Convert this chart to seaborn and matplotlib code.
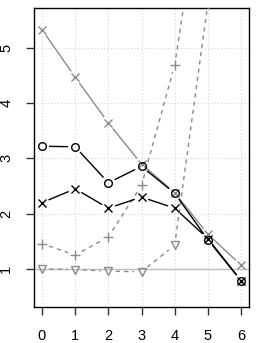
import numpy as np
import pandas as pd
import matplotlib
matplotlib.use("Agg")
from matplotlib import pyplot as plt
import seaborn as sb

# values
steps = [0, 1, 2, 3, 4, 5, 6]
gray_cross = [5.33, 4.47, 3.64, 2.90, 2.38, 1.63, 1.07]
black_circle = [3.22, 3.21, 2.56, 2.855, 2.37, 1.53, 0.79]
black_cross = [2.20, 2.45, 2.10, 2.30, 2.10, 1.55, 0.79]
gray_plus = [1.46, 1.25, 1.58, 2.51, 4.69, 8.6, 13.0]
gray_tri = [1.00, 0.99, 0.96, 0.95, 1.43, 5.8, 10.0]
ref_level = 1
x_ticks = [0, 1, 2, 3, 4, 5, 6]
y_ticks = [1, 2, 3, 4, 5]

sb.set_style("white")
plt.rcParams["font.family"] = ["Liberation Sans", "DejaVu Sans"]

fig = plt.figure(figsize=(2.58, 3.43), dpi=100)
ax = fig.add_axes([0.1318, 0.105, 0.8333, 0.8717])
ax.set_xlim(-0.24, 6.24)
ax.set_ylim(0.313, 5.72)

# R-like dotted grid
for xv in x_ticks:
    ax.axvline(xv, color="lightgray", lw=0.8, ls=(0, (1, 2)), zorder=0)
for yv in y_ticks:
    ax.axhline(yv, color="lightgray", lw=0.8, ls=(0, (1, 2)), zorder=0)

# reference line
ax.axhline(ref_level, color="#bebebe", lw=1.0, zorder=1)

gray = "#8a8a8a"
dash = (0, (3, 3))
series = [
    (gray_cross, "x", gray, "-", 6),
    (gray_plus, "+", gray, dash, 7),
    (gray_tri, "v", gray, dash, 6),
    (black_circle, "o", "black", "-", 5.5),
    (black_cross, "x", "black", "-", 6),
]


def gapped(xs, ys, gap_px=7.5):
    # R type="b": segments stop short of the points
    pts = ax.transData.transform(np.column_stack([xs, ys]))
    out = []
    for p, q in zip(pts[:-1], pts[1:]):
        d = q - p
        n = np.hypot(*d)
        if n <= 2 * gap_px:
            continue
        u = d / n
        seg = ax.transData.inverted().transform([p + u * gap_px, q - u * gap_px])
        out.append(seg)
        out.append([[np.nan, np.nan]])
    return np.vstack(out)


for vals, mk, col, ls, ms in series:
    seg = gapped(steps, vals)
    ax.plot(seg[:, 0], seg[:, 1], color=col, linestyle=ls, lw=1.0, zorder=2)
    df = pd.DataFrame({"x": steps, "y": vals})
    sb.lineplot(data=df, x="x", y="y", ax=ax, color=col, linestyle="", lw=0,
                marker=mk, markersize=ms, mfc="none", mec=col, mew=1.0, zorder=3)

ax.set_xlim(-0.24, 6.24)
ax.set_ylim(0.313, 5.72)
ax.set_xticks(x_ticks)
ax.set_yticks(y_ticks)
ax.set_xlabel("")
ax.set_ylabel("")
for lab in ax.get_yticklabels():
    lab.set_rotation(90)
    lab.set_va("center")
ax.tick_params(axis="both", which="both", direction="out", length=6, width=1,
               color="#333333", labelsize=10.5, labelcolor="black")
ax.tick_params(axis="x", bottom=True, pad=10)
ax.tick_params(axis="y", left=True, pad=9)
for sp in ax.spines.values():
    sp.set_visible(True)
    sp.set_color("black")
    sp.set_linewidth(1.0)

fig.savefig("out.png", dpi=100)
